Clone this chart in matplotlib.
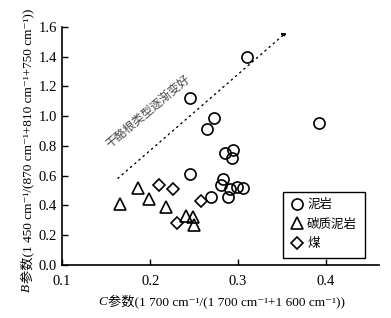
import matplotlib
matplotlib.use("Agg")
import matplotlib.pyplot as plt
from matplotlib.ticker import FormatStrFormatter

plt.rcParams['font.family'] = ['Liberation Serif', 'Noto Sans CJK SC', 'DejaVu Serif']

# --- data ---
mudstone_c = [0.310, 0.245, 0.392, 0.273, 0.265, 0.285, 0.294, 0.293, 0.245,
              0.283, 0.281, 0.291, 0.299, 0.306, 0.289, 0.269]
mudstone_b = [1.40, 1.12, 0.955, 0.99, 0.915, 0.75, 0.77, 0.72, 0.61,
              0.58, 0.54, 0.51, 0.525, 0.52, 0.46, 0.46]

carb_mud_c = [0.166, 0.186, 0.199, 0.218, 0.241, 0.249, 0.250]
carb_mud_b = [0.41, 0.52, 0.44, 0.39, 0.33, 0.32, 0.27]

coal_c = [0.210, 0.226, 0.258, 0.230]
coal_b = [0.54, 0.51, 0.43, 0.28]

trend_start = (0.161, 0.57)
trend_end = (0.358, 1.58)
trend_text = '干酪根类型逐渐变好'

xlabel_rest = '参数(1 700 cm⁻¹/(1 700 cm⁻¹+1 600 cm⁻¹))'
ylabel_rest = '参数(1 450 cm⁻¹/(870 cm⁻¹+810 cm⁻¹+750 cm⁻¹))'

fig = plt.figure(figsize=(3.91, 3.18), dpi=100)
ax = fig.add_axes([0.159, 0.167, 0.81, 0.748])

mk = dict(linestyle='none', markerfacecolor='none', markeredgecolor='k',
          markeredgewidth=1.2)
ax.plot(mudstone_c, mudstone_b, marker='o', markersize=8, label='泥岩', **mk)
ax.plot(carb_mud_c, carb_mud_b, marker='^', markersize=8, label='碳质泥岩', **mk)
ax.plot(coal_c, coal_b, marker='D', markersize=6.5, label='煤', **mk)

# dotted trend arrow
ax.annotate('', xy=trend_end, xytext=trend_start,
            arrowprops=dict(arrowstyle='-|>', color='k', lw=1.0,
                            linestyle=(0, (1, 3)), mutation_scale=7))
ax.text(0.198, 1.03, trend_text, rotation=40, color='#444444', fontsize=8.5,
        ha='center', va='center', rotation_mode='anchor')

ax.set_xlim(0.1, 0.46)
ax.set_ylim(0.0, 1.6)
ax.set_xticks([0.1, 0.2, 0.3, 0.4])
ax.set_yticks([0.0, 0.2, 0.4, 0.6, 0.8, 1.0, 1.2, 1.4, 1.6])
ax.xaxis.set_major_formatter(FormatStrFormatter('%.1f'))
ax.yaxis.set_major_formatter(FormatStrFormatter('%.1f'))
ax.tick_params(direction='in', length=4, width=1, labelsize=10.5, pad=4)
ax.tick_params(axis='x', pad=7)

for side in ['top', 'right']:
    ax.spines[side].set_visible(False)
for side in ['left', 'bottom']:
    ax.spines[side].set_linewidth(1.2)

ax.set_xlabel(xlabel_rest, fontsize=9.5)
ax.set_ylabel(ylabel_rest, fontsize=9.5, labelpad=3)
ax.xaxis.set_label_coords(0.52, -0.125)

leg = ax.legend(loc='lower right', bbox_to_anchor=(0.955, 0.03), fontsize=9,
                fancybox=False, edgecolor='k', framealpha=1, borderaxespad=0,
                handletextpad=0.3, handlelength=1.0, borderpad=0.6,
                labelspacing=0.6)
leg.get_frame().set_linewidth(1.0)

# italic parameter letters placed in front of the axis labels
fig.canvas.draw()
r = fig.canvas.get_renderer()
inv = fig.transFigure.inverted()
xb = ax.xaxis.label.get_window_extent(r)
yb = ax.yaxis.label.get_window_extent(r)
x0, y0 = inv.transform((xb.x0 - 1, (xb.y0 + xb.y1) / 2))
fig.text(x0, y0, 'C', family='Liberation Serif', style='italic', fontsize=9.5,
         ha='right', va='center')
x1, y1 = inv.transform(((yb.x0 + yb.x1) / 2, yb.y0 - 1))
fig.text(x1, y1, 'B', family='Liberation Serif', style='italic', fontsize=9.5,
         rotation=90, ha='right', va='center', rotation_mode='anchor')

plt.savefig('out.png', dpi=100)
